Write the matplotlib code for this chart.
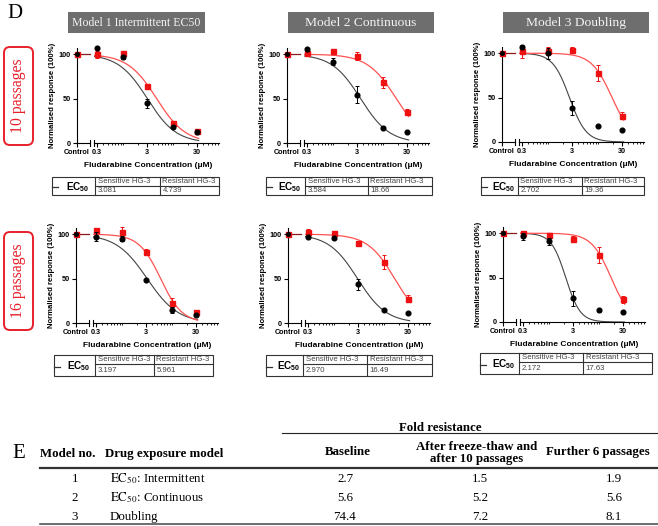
import numpy as np
import matplotlib
matplotlib.use('Agg')
import matplotlib.pyplot as plt
from matplotlib.patches import Rectangle, FancyBboxPatch

plt.rcParams['font.family'] = ['Liberation Sans', 'DejaVu Sans']
plt.rcParams['mathtext.fontset'] = 'custom'
plt.rcParams['mathtext.rm'] = 'Liberation Sans'
plt.rcParams['mathtext.bf'] = 'Liberation Sans:bold'

W, H = 658, 526
SERIF = ['Liberation Serif', 'DejaVu Serif']

# ---- data -----------------------------------------------------------------
conc = [0.3, 1, 3, 10, 30]
control_resp = 100
model_titles = ['Model 1 Intermittent EC50', 'Model 2 Continuous', 'Model 3 Doubling']
passage_labels = ['10 passages', '16 passages']

# panels in order: row 10 passages (model 1..3), row 16 passages (model 1..3)
sens_resp = [[107.5, 97, 44.5, 17.5, 12.5],
             [105.5, 91.5, 54.5, 16.5, 12],
             [107.5, 100, 38.5, 17.5, 13.5],
             [97, 95, 48, 14.5, 9.5],
             [97, 96, 43.5, 14.5, 11.5],
             [96.5, 91, 26.5, 13, 11]]
sens_err = [[1, 2, 5, 1, 1],
            [2, 4, 10, 1, 1],
            [1, 6, 8, 1, 1],
            [5, 3, 1, 3, 1],
            [1, 1, 6, 1, 1],
            [4, 4, 8, 2, 1]]
res_resp = [[100, 101, 64, 22, 13],
            [101, 103.5, 98, 68.5, 35],
            [102, 102.5, 103.5, 78, 29.5],
            [104.5, 102, 80.5, 23, 12],
            [102, 101, 90.5, 69, 27.5],
            [100, 97.5, 93.5, 76, 25.5]]
res_err = [[4, 2, 1, 3, 1],
           [2, 1, 4, 6, 3],
           [7, 5, 3, 9, 4],
           [3, 6, 3, 5, 2],
           [4, 3, 1, 8, 4],
           [3, 1, 3, 9, 4]]
ec50_sens = ['3.081', '3.584', '2.702', '3.197', '2.970', '2.172']
ec50_res = ['4.739', '18.66', '19.36', '5.961', '16.49', '17.63']
hill_sens = [1.5, 1.5, 2.6, 1.4, 1.5, 3.0]
hill_res = [1.5, 1.5, 2.1, 2.0, 1.6, 2.2]

# table E
model_no = ['1', '2', '3']
exposure = [r'$\mathrm{EC}_{50}$: Intermittent', r'$\mathrm{EC}_{50}$: Continuous', 'Doubling']
fold_baseline = ['2.7', '5.6', '74.4']
fold_after10 = ['1.5', '5.2', '7.2']
fold_further6 = ['1.9', '5.6', '8.1']

# ---- layout (pixels) --------------------------------------------------------
ax_left = [77, 287, 502, 76, 288, 503]
ax_bottom = [143, 143, 142, 323, 323, 322]
ax_w, ax_h = 142, 95
tables = [(52, 95, 160, 219, 177, 186, 195),
          (266, 305, 368, 432, 177, 186, 195),
          (481, 518, 582, 644, 177, 186, 195),
          (54, 95, 154, 213, 355, 364, 376),
          (266, 303, 367, 432, 355, 364, 376),
          (480, 519, 583, 652, 353, 362, 374)]

fig = plt.figure(figsize=(W / 100, H / 100), dpi=100)
ov = fig.add_axes([0, 0, 1, 1])
ov.set_xlim(0, W)
ov.set_ylim(H, 0)
ov.axis('off')

ctrl = np.log10(0.3) - 0.4
xmax = np.log10(0.3) + 2.45
brk1 = ctrl + 0.27
brk2 = np.log10(0.3) - 0.06


def hill(x, ec50, h):
    return 100 / (1 + (x / ec50) ** h)


for i in range(6):
    ax = fig.add_axes([ax_left[i] / W, 1 - ax_bottom[i] / H, ax_w / W, ax_h / H])
    ax.set_facecolor('none')
    ax.set_xlim(ctrl, xmax)
    ax.set_ylim(0, 107)
    for s in ['top', 'right', 'bottom']:
        ax.spines[s].set_visible(False)
    ax.spines['left'].set_linewidth(0.8)
    tr = ax.get_xaxis_transform()
    kw = dict(color='black', lw=0.8, transform=tr, clip_on=False)
    ax.plot([ctrl, brk1], [0, 0], **kw)
    ax.plot([brk2, xmax], [0, 0], **kw)
    for b in (brk1, brk2):
        ax.plot([b, b], [-0.035, 0.035], **kw)

    majors = [0.3, 3, 30]
    ax.set_xticks([ctrl] + list(np.log10(majors)), ['Control', '0.3', '3', '30'])
    minors = [k * 10.0 ** n for n in (-1, 0, 1) for k in range(1, 10)]
    minors = [np.log10(m) for m in minors
              if 0.3 < m < 10 ** xmax and not any(abs(m - M) < 1e-9 for M in majors)]
    ax.set_xticks(minors, minor=True)
    ax.set_yticks([0, 50, 100])
    ax.tick_params(axis='both', which='major', length=3, width=0.8, pad=1.5,
                   labelsize=5.2)
    ax.tick_params(axis='x', which='minor', length=1.5, width=0.6)
    for lab in ax.get_xticklabels() + ax.get_yticklabels():
        lab.set_fontweight('bold')
    ax.set_ylabel('Normalised response (100%)', fontsize=5.6, fontweight='bold',
                  labelpad=2)
    ax.set_xlabel('Fludarabine Concentration (\u03bcM)', fontsize=6,
                  fontweight='bold', labelpad=4)

    xc = np.logspace(np.log10(0.27), np.log10(33), 200)
    ax.plot([ctrl, brk1], [control_resp, control_resp], color='#8b1a1a', lw=0.9,
            clip_on=False)
    ax.plot(np.log10(xc), hill(xc, float(ec50_sens[i]), hill_sens[i]),
            color='#444444', lw=0.8)
    ax.plot(np.log10(xc), hill(xc, float(ec50_res[i]), hill_res[i]),
            color='#ff5252', lw=0.9)

    ax.errorbar(np.log10(conc), res_resp[i], yerr=res_err[i], fmt='s',
                color='#ee1111', ms=3.6, capsize=1.5, elinewidth=0.7,
                capthick=0.7, clip_on=False, zorder=3)
    ax.errorbar(np.log10(conc), sens_resp[i], yerr=sens_err[i], fmt='o',
                color='black', ms=3.4, capsize=1.5, elinewidth=0.7,
                capthick=0.7, clip_on=False, zorder=4)
    ax.plot([ctrl], [control_resp], 's', color='#ee1111', ms=3.6, clip_on=False,
            zorder=5)
    ax.plot([ctrl], [control_resp], 'o', color='black', ms=2.6, clip_on=False,
            zorder=6)

    # EC50 table under the chart
    x0, c1, c2, x1, yt, ym, yb = tables[i]
    lc = '#333333'
    ov.add_patch(Rectangle((x0, yt), x1 - x0, yb - yt, fill=False, ec=lc, lw=0.8))
    ov.plot([c1, c1], [yt, yb], color=lc, lw=0.8)
    ov.plot([c2, c2], [yt, yb], color=lc, lw=0.8)
    ov.plot([c1, x1], [ym, ym], color=lc, lw=0.8)
    ov.plot([x0, x0 + 6], [(yt + yb) / 2 + 1, (yt + yb) / 2 + 1], color=lc, lw=0.9)
    ov.text((x0 + c1) / 2 + 4, (yt + yb) / 2 + 1, r'$\mathbf{EC_{50}}$',
            fontsize=7.2, ha='center', va='center')
    tk = dict(fontsize=5.6, color='#444444', ha='left', va='center')
    ov.text(c1 + 2.5, (yt + ym) / 2, 'Sensitive HG-3', **tk)
    ov.text(c2 + 2.5, (yt + ym) / 2, 'Resistant HG-3', **tk)
    ov.text(c1 + 2.5, (ym + yb) / 2, ec50_sens[i], **tk)
    ov.text(c2 + 2.5, (ym + yb) / 2, ec50_res[i], **tk)

# model title boxes
title_boxes = [(68, 205), (288, 434), (503, 649)]
title_sizes = [8.5, 9.7, 9.7]
for (bx0, bx1), t, fs in zip(title_boxes, model_titles, title_sizes):
    ov.add_patch(Rectangle((bx0, 12), bx1 - bx0, 21, color='#6e6e6e', lw=0))
    ov.text((bx0 + bx1) / 2, 23, t, fontsize=fs, family=SERIF, color='#f4f4f4',
            ha='center', va='center')

# passage labels
for (yb0, yb1), lab in zip([(47, 145), (232, 330)], passage_labels):
    ov.add_patch(FancyBboxPatch((4, yb0), 29, yb1 - yb0,
                                boxstyle='round,pad=0,rounding_size=6',
                                fc='none', ec='#e8202a', lw=1.4))
    ov.text(18.5, (yb0 + yb1) / 2, lab, rotation=90, fontsize=11.3, family=SERIF,
            color='#e8202a', ha='center', va='center')

ov.text(15, 14, 'D', fontsize=15, family=SERIF, ha='center', va='center')
ov.text(19, 453, 'E', fontsize=15, family=SERIF, ha='center', va='center')

# ---- table E ---------------------------------------------------------------
hb = dict(fontsize=9.3, family=SERIF, fontweight='bold', va='center')
ov.text(440, 428, 'Fold resistance', ha='center', **hb)
ov.plot([282, 658], [433, 433], color='#222222', lw=0.8)
ov.text(40, 454, 'Model no.', ha='left', **hb)
ov.text(105, 454, 'Drug exposure model', ha='left', **hb)
ov.text(348, 452, 'Baseline', ha='center', **hb)
ov.text(477, 447, 'After freeze-thaw and', ha='center', **hb)
ov.text(477, 459, 'after 10 passages', ha='center', **hb)
ov.text(598, 452, 'Further 6 passages', ha='center', **hb)
ov.plot([40, 658], [467.5, 467.5], color='#333333', lw=1.6)
ov.plot([40, 658], [524, 524], color='#555555', lw=1.2)

rows_y = [479, 498, 517]
tb = dict(fontsize=9.3, family=SERIF, va='center')
for j, yy in enumerate(rows_y):
    ov.text(75, yy, model_no[j], ha='center', **tb)
    ov.text(110, yy, exposure[j], ha='left', math_fontfamily='stix', **tb)
    ov.text(345, yy, fold_baseline[j], ha='center', **tb)
    ov.text(480, yy, fold_after10[j], ha='center', **tb)
    ov.text(614, yy, fold_further6[j], ha='center', **tb)

fig.savefig('out.png', dpi=100)
